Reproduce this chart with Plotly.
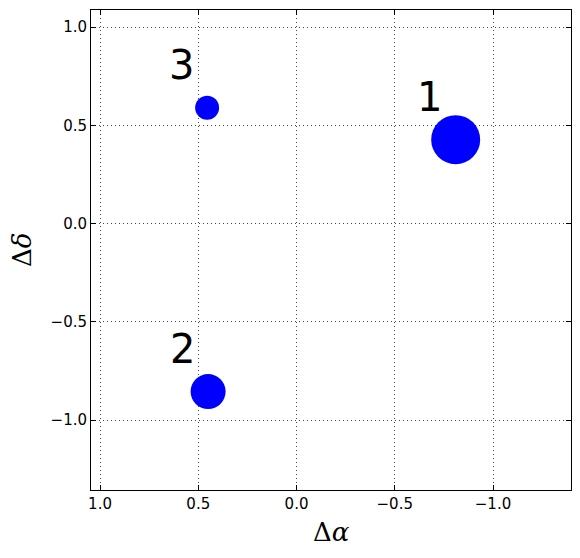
import plotly.graph_objects as go

# offsets of the three sources
labels = ["1", "2", "3"]
d_alpha = [-0.81, 0.45, 0.455]
d_delta = [0.427, -0.855, 0.589]
sizes = [49, 35, 24]

fig = go.Figure()
fig.add_trace(go.Scatter(
    x=d_alpha, y=d_delta, mode="markers",
    marker=dict(size=sizes, color="#0000ff", opacity=1, line=dict(width=0)),
    showlegend=False,
))

for lab, xa, yd in zip(labels, d_alpha, d_delta):
    fig.add_annotation(x=xa, y=yd, text=lab, showarrow=False,
                       xshift=-26, yshift=43,
                       font=dict(size=40, color="black", family="DejaVu Sans"))

# axis titles placed as annotations so they sit where matplotlib put them
title_font = dict(size=26, family="DejaVu Serif", color="black")
fig.add_annotation(xref="paper", yref="paper", x=0.5, y=0, yshift=-42,
                   xanchor="center", yanchor="middle",
                   text="Δ<i>α</i>", showarrow=False, font=title_font)
fig.add_annotation(xref="paper", yref="paper", x=0, y=0.5, xshift=-69,
                   xanchor="center", yanchor="middle",
                   text="Δ<i>δ</i>", textangle=-90, showarrow=False, font=title_font)

axis_style = dict(
    showline=True, linecolor="black", linewidth=1, mirror="allticks",
    ticks="inside", ticklen=5, tickcolor="black",
    showgrid=True, gridcolor="#444", gridwidth=1, griddash="1px,3px",
    zeroline=False, tickformat=".1f", dtick=0.5, automargin=False,
    tickfont=dict(size=15, color="black", family="DejaVu Sans"),
)

fig.update_xaxes(range=[1.046, -1.397], tick0=0, **axis_style)
fig.update_yaxes(range=[-1.356, 1.087], tick0=0, **axis_style)

# page body adds an 8px margin, so shrink the figure to keep the plot box in place
fig.update_layout(
    width=572, height=550,
    margin=dict(l=83, r=9, t=2, b=68),
    plot_bgcolor="white", paper_bgcolor="white",
)

fig.write_html("out.html")
